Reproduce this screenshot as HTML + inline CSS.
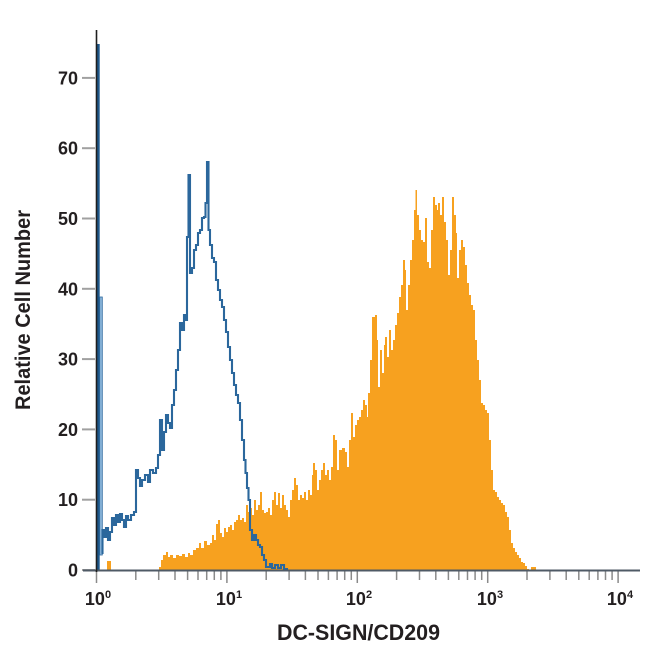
<!DOCTYPE html>
<html>
<head>
<meta charset="utf-8">
<style>
html,body{margin:0;padding:0;background:#fff;}
svg{display:block;}
text{font-family:"Liberation Sans",sans-serif;font-weight:bold;fill:#231f20;}
</style>
</head>
<body>
<svg width="650" height="650" viewBox="0 0 650 650" xmlns="http://www.w3.org/2000/svg">
<rect width="650" height="650" fill="#fff"/>

<!-- orange histogram -->
<path fill="#f7a11f" d="M107 570 V561 H111 V570 Z"/>
<path fill="#f7a11f" d="M159 570 V567 H161 V560 H163 V555 H166 V552 H168 V557 H170 V555 H173 V558 H176 V555 H179 V556 H182 V554 H185 V557 H188 V553 H190 V555 H193 V550 H196 V548 H199 V543 H201 V548 H204 V541 H207 V545 H210 V543 H212 V535 H214 V540 H216 V524 H218 V520 H220 V533 H222 V537 H224 V528 H226 V532 H228 V527 H230 V525 H232 V530 H234 V522 H236 V520 H238 V515 H240 V520 H242 V518 H244 V522 H246 V505 H248 V512 H250 V508 H252 V515 H254 V500 H256 V510 H258 V505 H260 V492 H262 V510 H264 V513 H266 V512 H268 V508 H270 V515 H272 V500 H274 V492 H276 V505 H278 V493 H280 V508 H282 V495 H284 V505 H286 V510 H288 V517 H290 V500 H292 V490 H294 V478 H296 V485 H298 V500 H300 V495 H302 V498 H304 V492 H306 V500 H308 V490 H310 V495 H312 V475 H313 V463 H315 V470 H317 V490 H319 V480 H321 V470 H323 V463 H325 V475 H327 V470 H329 V480 H331 V467 H333 V435 H335 V440 H337 V470 H339 V450 H342 V448 H345 V452 H347 V467 H349 V440 H351 V413 H353 V437 H355 V425 H357 V420 H359 V417 H361 V410 H363 V400 H365 V405 H367 V417 H368 V393 H370 V360 H372 V317 H375 V315 H377 V340 H378 V387 H380 V350 H382 V373 H384 V345 H385 V337 H387 V357 H389 V330 H391 V350 H393 V340 H395 V325 H397 V313 H399 V297 H401 V285 H403 V260 H405 V270 H406 V310 H408 V285 H410 V260 H412 V240 H414 V210 H415.5 V190 H417 V215 H419 V230 H421 V240 H423 V242 H425 V218 H427 V262 H429 V268 H431 V230 H433 V197 H435 V205 H437 V210 H438 V203 H440 V215 H442 V197 H444 V222 H446 V240 H448 V275 H450 V250 H452 V197 H454 V215 H456 V233 H457 V278 H459 V250 H461 V240 H463 V247 H465 V265 H467 V283 H469 V295 H471 V305 H473 V310 H475 V340 H477 V360 H479 V380 H481 V403 H483 V405 H485 V410 H487 V413 H489 V440 H491 V470 H493 V490 H495 V492 H497 V497 H499 V500 H501 V503 H503 V505 H505 V512 H507 V517 H509 V530 H511 V543 H513 V548 H515 V552 H517 V555 H519 V558 H521 V562 H523 V563 H525 V566 H527 V569 H529 V570 H531 V567 H536 V570 Z"/>

<!-- blue spike -->
<rect x="96.5" y="44" width="3.2" height="526" fill="#1d5688"/>
<rect x="99.7" y="297" width="2.6" height="258" fill="#8cb6da" stroke="#2d6a9f" stroke-width="0.8"/>

<!-- blue histogram line -->
<path fill="none" stroke="#2b679c" stroke-width="2.1" stroke-linejoin="miter" d="M101.5 553 H102.5 V530 H104 V537 H106 V528 H108 V540 H110 V532 H112 V518 H114 V525 H116 V515 H118 V522 H120 V514 H122 V520 H124 V527 H126 V516 H128 V520 H131 V515 H134 V512 H136 V470 H138 V478 H140 V486 H142 V480 H145 V475 H148 V482 H150 V470 H153 V473 H156 V468 H158 V455 H160 V420 H162 V450 H164 V432 H166 V415 H168 V423 H170 V428 H172 V405 H174 V390 H176 V370 H178 V350 H180 V323 H182 V330 H184 V315 H186 V320 H187 V237 H188.5 V175 H190 V273 H192 V268 H194 V250 H196 V245 H198 V233 H200 V230 H202 V218 H204 V217 H205.5 V203 H207 V162 H208.5 V230 H210 V245 H212 V258 H214 V262 H216 V280 H218 V290 H220 V300 H222 V307 H224 V320 H226 V332 H228 V347 H230 V360 H232 V373 H234 V385 H236 V395 H238 V403 H240 V420 H242 V440 H244 V460 H245.5 V473 H247 V488 H248.5 V500 H250 V530 H252 V540 H254 V535 H256 V540 H258 V545 H260 V547 H262 V555 H264 V560 H266 V567 H270 V564 H272 V568 H275 V565 H278 V568 H281 V565 H284 V569 H287 V570"/>

<!-- y ticks -->
<g stroke="#a0a0a0" stroke-width="2">
<line x1="82" y1="570" x2="95" y2="570"/>
<line x1="82" y1="499.7" x2="95" y2="499.7"/>
<line x1="82" y1="429.4" x2="95" y2="429.4"/>
<line x1="82" y1="359.1" x2="95" y2="359.1"/>
<line x1="82" y1="288.8" x2="95" y2="288.8"/>
<line x1="82" y1="218.5" x2="95" y2="218.5"/>
<line x1="82" y1="148.2" x2="95" y2="148.2"/>
<line x1="82" y1="77.9" x2="95" y2="77.9"/>
</g>

<!-- x ticks -->
<g stroke="#8a8a8a" stroke-width="1.5">
<line x1="96.5" y1="571" x2="96.5" y2="583"/>
<line x1="135.8" y1="571" x2="135.8" y2="580"/>
<line x1="158.7" y1="571" x2="158.7" y2="580"/>
<line x1="175" y1="571" x2="175" y2="580"/>
<line x1="187.6" y1="571" x2="187.6" y2="580"/>
<line x1="198" y1="571" x2="198" y2="580"/>
<line x1="206.7" y1="571" x2="206.7" y2="580"/>
<line x1="214.3" y1="571" x2="214.3" y2="580"/>
<line x1="220.9" y1="571" x2="220.9" y2="580"/>
<line x1="226.9" y1="571" x2="226.9" y2="583"/>
<line x1="266.2" y1="571" x2="266.2" y2="580"/>
<line x1="289.1" y1="571" x2="289.1" y2="580"/>
<line x1="305.4" y1="571" x2="305.4" y2="580"/>
<line x1="318" y1="571" x2="318" y2="580"/>
<line x1="328.4" y1="571" x2="328.4" y2="580"/>
<line x1="337.1" y1="571" x2="337.1" y2="580"/>
<line x1="344.7" y1="571" x2="344.7" y2="580"/>
<line x1="351.3" y1="571" x2="351.3" y2="580"/>
<line x1="357.3" y1="571" x2="357.3" y2="583"/>
<line x1="396.6" y1="571" x2="396.6" y2="580"/>
<line x1="419.5" y1="571" x2="419.5" y2="580"/>
<line x1="435.8" y1="571" x2="435.8" y2="580"/>
<line x1="448.4" y1="571" x2="448.4" y2="580"/>
<line x1="458.8" y1="571" x2="458.8" y2="580"/>
<line x1="467.5" y1="571" x2="467.5" y2="580"/>
<line x1="475.1" y1="571" x2="475.1" y2="580"/>
<line x1="481.7" y1="571" x2="481.7" y2="580"/>
<line x1="487.7" y1="571" x2="487.7" y2="583"/>
<line x1="527" y1="571" x2="527" y2="580"/>
<line x1="549.9" y1="571" x2="549.9" y2="580"/>
<line x1="566.2" y1="571" x2="566.2" y2="580"/>
<line x1="578.8" y1="571" x2="578.8" y2="580"/>
<line x1="589.2" y1="571" x2="589.2" y2="580"/>
<line x1="597.9" y1="571" x2="597.9" y2="580"/>
<line x1="605.5" y1="571" x2="605.5" y2="580"/>
<line x1="612.1" y1="571" x2="612.1" y2="580"/>
<line x1="618.1" y1="571" x2="618.1" y2="583"/>
</g>

<!-- axes -->
<line x1="83" y1="570.5" x2="640" y2="570.5" stroke="#4f5a66" stroke-width="2"/>
<line x1="96.5" y1="30" x2="96.5" y2="572" stroke="#1e1e1e" stroke-width="1.6"/>

<!-- y tick labels -->
<g font-size="18" text-anchor="end">
<text x="78" y="576.5">0</text>
<text x="78" y="506.2">10</text>
<text x="78" y="435.9">20</text>
<text x="78" y="365.6">30</text>
<text x="78" y="295.3">40</text>
<text x="78" y="225">50</text>
<text x="78" y="154.7">60</text>
<text x="78" y="84.4">70</text>
</g>

<!-- x tick labels -->
<g font-size="18" text-anchor="middle">
<text x="98" y="605">10<tspan font-size="11" dy="-7">0</tspan></text>
<text x="229" y="605">10<tspan font-size="11" dy="-7">1</tspan></text>
<text x="359" y="605">10<tspan font-size="11" dy="-7">2</tspan></text>
<text x="490" y="605">10<tspan font-size="11" dy="-7">3</tspan></text>
<text x="620" y="605">10<tspan font-size="11" dy="-7">4</tspan></text>
</g>

<!-- axis titles -->
<text x="277" y="640" font-size="22" textLength="163" lengthAdjust="spacingAndGlyphs">DC-SIGN/CD209</text>
<text transform="translate(30,410) rotate(-90)" x="0" y="0" font-size="21" textLength="200" lengthAdjust="spacingAndGlyphs">Relative Cell Number</text>
</svg>
</body>
</html>
